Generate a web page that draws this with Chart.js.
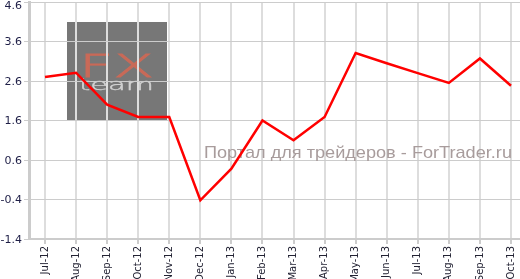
<!DOCTYPE html>
<html>
<head>
<meta charset="utf-8">
<script src="https://cdn.jsdelivr.net/npm/chart.js@4"></script>
<style>
  html, body { margin: 0; padding: 0; background: #fff; }
  #wrap { width: 520px; height: 279px; position: relative; }
</style>
</head>
<body>
<div id="wrap"><canvas id="c"></canvas></div>
<script>
const categories = ['Jul-12','Aug-12','Sep-12','Oct-12','Nov-12','Dec-12','Jan-13','Feb-13','Mar-13','Apr-13','May-13','Jun-13','Jul-13','Aug-13','Sep-13','Oct-13'];
const values = [2.70, 2.81, 2.00, 1.69, 1.69, -0.42, 0.38, 1.60, 1.10, 1.69, 3.31, 3.05, 2.80, 2.55, 3.17, 2.48];
const yTicks = [-1.4, -0.4, 0.6, 1.6, 2.6, 3.6, 4.6];
const watermarkText = 'Портал для трейдеров - ForTrader.ru';
const yFont = '11px "DejaVu Sans"';
const yColor = '#1e1e46';

function fitText(ctx, text, font, x, yBase, w, h, strokeW) {
  ctx.save();
  ctx.font = font;
  ctx.textBaseline = 'alphabetic';
  const m = ctx.measureText(text);
  const tw = m.width;
  const th = m.actualBoundingBoxAscent;
  ctx.translate(x, yBase);
  ctx.scale(w / tw, h / th);
  ctx.fillText(text, 0, 0);
  if (strokeW) {
    ctx.strokeStyle = ctx.fillStyle;
    ctx.lineWidth = strokeW;
    ctx.strokeText(text, 0, 0);
  }
  ctx.restore();
}

const logoPlugin = {
  id: 'logo',
  beforeDraw(chart) {
    const ctx = chart.ctx;
    ctx.save();
    ctx.fillStyle = '#777777';
    ctx.fillRect(67, 22, 100, 99);
    ctx.fillStyle = '#c96a58';
    fitText(ctx, 'FX', '200 33px "DejaVu Sans"', 79, 77, 75, 24, 0.8);
    ctx.fillStyle = '#d2d2d2';
    fitText(ctx, 'team', '200 18px "DejaVu Sans"', 79, 90, 75, 11, 0.4);
    ctx.restore();
  },
  beforeDatasetsDraw(chart) {
    const ctx = chart.ctx;
    ctx.save();
    ctx.fillStyle = '#a89c9c';
    ctx.font = '17px "Liberation Sans"';
    ctx.textBaseline = 'alphabetic';
    const w = ctx.measureText(watermarkText).width;
    ctx.translate(204, 158);
    ctx.scale(308 / w, 1);
    ctx.fillText(watermarkText, 0, 0);
    ctx.restore();
  },
  afterDraw(chart) {
    const ctx = chart.ctx;
    const top = yTicks[yTicks.length - 1];
    ctx.save();
    ctx.font = yFont;
    ctx.fillStyle = yColor;
    ctx.textAlign = 'right';
    ctx.textBaseline = 'middle';
    ctx.fillText(top.toFixed(1), chart.chartArea.left - 7, chart.scales.y.getPixelForValue(top) + 4);
    ctx.restore();
  }
};

new Chart(document.getElementById('c'), {
  type: 'line',
  data: {
    datasets: [{
      data: values.map((v, i) => ({ x: i, y: v })),
      borderColor: '#ff0000',
      borderWidth: 2.5,
      pointRadius: 0,
      tension: 0,
      fill: false
    }]
  },
  options: {
    responsive: true,
    maintainAspectRatio: false,
    animation: false,
    events: [],
    layout: { padding: { top: 2, left: 0, right: 0, bottom: 0 } },
    plugins: { legend: { display: false }, tooltip: { enabled: false } },
    scales: {
      x: {
        type: 'linear',
        min: -0.515,
        max: 15.29,
        afterBuildTicks(s) { s.ticks = categories.map((c, i) => ({ value: i })); },
        afterFit(s) { s.height = 40; s.paddingLeft = 0; s.paddingRight = 0; },
        ticks: {
          autoSkip: false,
          minRotation: 90,
          maxRotation: 90,
          padding: 2,
          color: '#222233',
          font: { family: '"DejaVu Sans"', size: 10 },
          callback: (v) => categories[v] ?? ''
        },
        grid: { color: '#dddddd', lineWidth: 2, tickLength: 5, tickColor: '#cccccc' },
        border: { color: '#cccccc', width: 2 }
      },
      y: {
        min: -1.4,
        max: 4.6,
        afterBuildTicks(s) { s.ticks = yTicks.map(v => ({ value: v })); },
        afterFit(s) { s.width = 29; s.paddingTop = 0; s.paddingBottom = 0; },
        ticks: {
          padding: 2,
          labelOffset: 1,
          color: yColor,
          font: { family: '"DejaVu Sans"', size: 11 },
          callback: (v) => (v === yTicks[yTicks.length - 1] ? '' : Number(v).toFixed(1))
        },
        grid: { color: '#cccccc', lineWidth: 1, tickLength: 5, tickColor: '#cccccc' },
        border: { color: '#cccccc', width: 3 }
      }
    }
  },
  plugins: [logoPlugin]
});
</script>
</body>
</html>
